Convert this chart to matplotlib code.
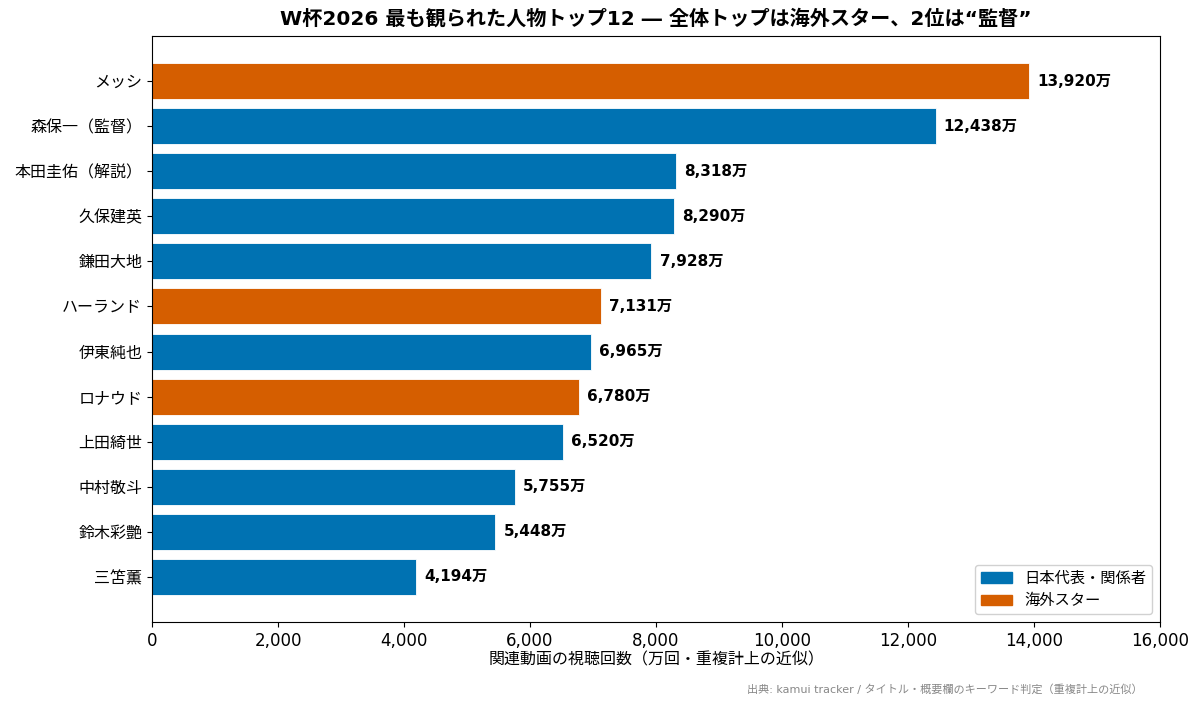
import matplotlib
matplotlib.use("Agg")
import matplotlib.pyplot as plt
from matplotlib.patches import Patch
from matplotlib.ticker import FuncFormatter

plt.rcParams['font.family'] = ['DejaVu Sans', 'Noto Sans CJK JP']

names = ["メッシ", "森保一（監督）", "本田圭佑（解説）", "久保建英", "鎌田大地", "ハーランド",
         "伊東純也", "ロナウド", "上田綺世", "中村敬斗", "鈴木彩艶", "三笘薫"]
values = [13920, 12438, 8318, 8290, 7928, 7131, 6965, 6780, 6520, 5755, 5448, 4194]
groups = ["海外", "日本", "日本", "日本", "日本", "海外", "日本", "海外", "日本", "日本", "日本", "日本"]

BLUE = "#0072B2"
ORANGE = "#D55E00"
colors = [ORANGE if g == "海外" else BLUE for g in groups]

fig = plt.figure(figsize=(12, 7.06), dpi=100)
ax = fig.add_axes([152/1200, 1-622/706, (1160-152)/1200, (622-36)/706])

y = list(range(len(names)))
ax.barh(y, values, height=0.8, color=colors, edgecolor="white", linewidth=0.6)
for yi, v in zip(y, values):
    ax.text(v + 130, yi, f"{v:,}万", va="center", ha="left", fontsize=11, fontweight="bold")

ax.set_yticks(y)
ax.set_yticklabels(names, fontsize=11.5)
ax.set_ylim(12, -1)
ax.set_xlim(0, 16000)
ax.set_xticks(range(0, 16001, 2000))
ax.xaxis.set_major_formatter(FuncFormatter(lambda x, p: f"{int(x):,}"))
ax.tick_params(axis='x', labelsize=12)
ax.set_xlabel("関連動画の視聴回数（万回・重複計上の近似）", fontsize=11.5, labelpad=2)
ax.set_title("W杯2026 最も観られた人物トップ12 ― 全体トップは海外スター、2位は“監督”",
             fontsize=14.5, fontweight="bold", pad=8)

handles = [Patch(color=BLUE, label="日本代表・関係者"), Patch(color=ORANGE, label="海外スター")]
ax.legend(handles=handles, loc="lower right", fontsize=11, framealpha=0.9)

fig.text(1143/1200, 1-689/706, "出典: kamui tracker / タイトル・概要欄のキーワード判定（重複計上の近似）",
         ha="right", va="center", fontsize=8, color="#888888")

fig.savefig("out.png", dpi=100)
